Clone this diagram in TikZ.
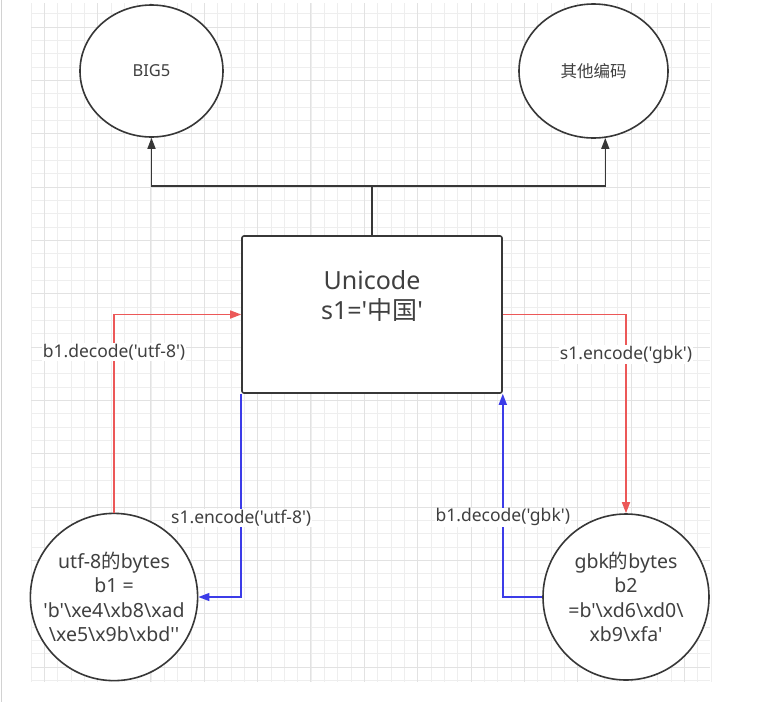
\documentclass[tikz,border=0pt]{standalone}
\usepackage{fontspec}
\setmainfont{Noto Sans}[Ligatures=TeXOff]
\newfontfamily\cjk{Noto Sans CJK SC}[Ligatures=TeXOff]
\usetikzlibrary{arrows.meta,shapes.geometric}
\definecolor{edgered}{RGB}{236,88,88}
\definecolor{edgeblue}{RGB}{60,60,232}
\definecolor{edgeblack}{RGB}{55,55,55}
\definecolor{txtgray}{RGB}{64,64,64}
\definecolor{gridminor}{RGB}{238,238,238}
\definecolor{gridmajor}{RGB}{226,226,226}
\definecolor{winborder}{RGB}{210,210,210}
\newcommand\bs{\textbackslash}
\tikzset{
  shapebox/.style={draw=edgeblack, line width=1.6pt, fill=white, inner sep=0pt, text=txtgray, align=center},
  ellbox/.style={shapebox, ellipse, font=\fontsize{16.5}{20}\selectfont},
  circbox/.style={shapebox, circle, minimum size=166pt, font=\fontsize{19.5}{24.5}\selectfont},
  unibox/.style={shapebox, rectangle, rounded corners=2pt, minimum width=260pt, minimum height=157pt, font=\fontsize{25}{30}\selectfont},
  tip/.style={-{Triangle[length=11pt,width=8pt]}},
  redline/.style={draw=edgered, line width=1.5pt, tip},
  blueline/.style={draw=edgeblue, line width=1.5pt, tip},
  blackline/.style={draw=edgeblack, line width=1.6pt},
  edgelabel/.style={fill=white, inner sep=1pt, text=txtgray, font=\fontsize{17.5}{21}\selectfont}
}
\begin{document}
\begin{tikzpicture}[x=1pt, y=-1pt]
\useasboundingbox (0,0) rectangle (765,702);
\fill[white] (0,0) rectangle (765,702);
% window border
\draw[winborder, line width=1.5pt] (1.5,0) -- (1.5,702);
% grid
\foreach \i in {0,...,51} {
  \draw[gridminor, line width=0.8pt] ({31+\i*13.333},3) -- ({31+\i*13.333},682);
}
\foreach \j in {1,...,51} {
  \draw[gridminor, line width=0.8pt] (31,{0.33+\j*13.333}) -- (710,{0.33+\j*13.333});
}
\foreach \k in {0,...,12} {
  \draw[gridmajor, line width=1pt] ({44.33+\k*53.333},3) -- ({44.33+\k*53.333},682);
  \draw[gridmajor, line width=1pt] (31,{27+\k*53.333}) -- (710,{27+\k*53.333});
}
% nodes
\node[ellbox, minimum width=143pt, minimum height=132pt] (big5) at (151.5,71) {BIG5};
\node[ellbox, minimum width=149pt, minimum height=134pt] (other) at (593.5,71) {\cjk 其他编码};
\node[unibox] (uni) at (372,314.5) {Unicode\\ s1='{\cjk 中国}'\\ \strut};
\node[circbox] (c1) at (114,597) {utf-8{\cjk 的}bytes\\ b1 =\\ 'b'\bs xe4\bs xb8\bs xad\\ \bs xe5\bs x9b\bs xbd''};
\node[circbox] (c2) at (626,597) {gbk{\cjk 的}bytes\\ b2\\ =b'\bs xd6\bs xd0\bs\\ xb9\bs xfa'};
% black connectors
\coordinate (j) at (372,186);
\draw[blackline] (uni.north) -- (j);
\draw[blackline, tip] (j) -| (big5.south);
\draw[blackline, tip] (j) -| (other.-80);
% red / blue connectors
\draw[redline] (c1.north) |- node[edgelabel, pos=0.405] {b1.decode('utf-8')} (uni.west);
\draw[blueline] (uni.south west) |- node[edgelabel, pos=0.306] {s1.encode('utf-8')} (c1.east);
\draw[redline] (uni.east) -| node[edgelabel, pos=0.601] {s1.encode('gbk')} (c2.north);
\draw[blueline] (c2.west) -| node[edgelabel, pos=0.696] {b1.decode('gbk')} (uni.south east);
\end{tikzpicture}
\end{document}
